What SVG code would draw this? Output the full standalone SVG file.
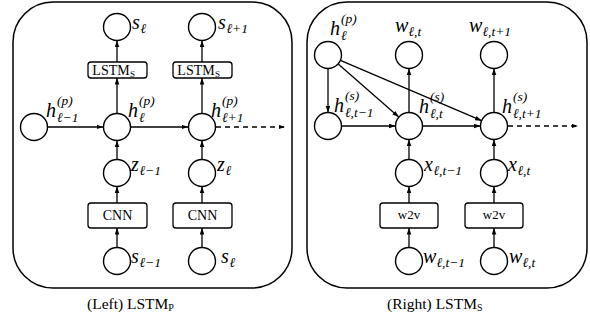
<svg xmlns="http://www.w3.org/2000/svg" width="590" height="327" viewBox="0 0 590 327">
<style>
.panel{fill:none;stroke:#000;stroke-width:1.5}
.n{fill:#fff;stroke:#000;stroke-width:1.4}
.box{fill:#fff;stroke:#000;stroke-width:1.3}
.e{fill:none;stroke:#000;stroke-width:1.3;marker-end:url(#ah)}
.d{stroke-dasharray:5,4}
.m{font-family:"Liberation Serif","DejaVu Serif",serif;font-style:italic;font-size:20px;fill:#000}
.s{font-family:"Liberation Serif","DejaVu Serif",serif;font-style:italic;font-size:13.5px;fill:#000}
.r{font-family:"Liberation Serif","DejaVu Serif",serif;font-size:14px;fill:#000}
.rs{font-family:"Liberation Serif","DejaVu Serif",serif;font-size:9px;fill:#000}
.cap{font-family:"Liberation Serif","DejaVu Serif",serif;font-size:15.5px;fill:#000}
</style>
<defs>
<marker id="ah" markerUnits="userSpaceOnUse" markerWidth="7" markerHeight="5" refX="6.5" refY="2.3" orient="auto">
<path d="M0,0 L6.5,2.3 L0,4.6 z" fill="#000"/>
</marker>
</defs>

<g id="panels">
<rect class="panel" x="13" y="2" width="279" height="286" rx="40" ry="40"/>
<rect class="panel" x="307" y="2" width="280" height="286" rx="40" ry="40"/>
</g>

<g id="connectors">
<line class="e" x1="47.5" y1="127" x2="103" y2="127"/>
<line class="e" x1="130.5" y1="127" x2="188" y2="127"/>
<line class="e d" x1="216" y1="127" x2="285" y2="127"/>
<line class="e" x1="117" y1="113.5" x2="117" y2="78"/>
<line class="e" x1="202" y1="113.5" x2="202" y2="78"/>
<line class="e" x1="117" y1="62" x2="117" y2="40.5"/>
<line class="e" x1="202" y1="62" x2="202" y2="40.5"/>
<line class="e" x1="117" y1="159.5" x2="117" y2="140.5"/>
<line class="e" x1="202" y1="159.5" x2="202" y2="140.5"/>
<line class="e" x1="117" y1="203" x2="117" y2="186.5"/>
<line class="e" x1="202" y1="203" x2="202" y2="186.5"/>
<line class="e" x1="117" y1="247.5" x2="117" y2="228"/>
<line class="e" x1="202" y1="247.5" x2="202" y2="228"/>
<line class="e" x1="328" y1="68.5" x2="328" y2="112.5"/>
<line class="e" x1="338.2" y1="63.9" x2="398.8" y2="117.1"/>
<line class="e" x1="340.4" y1="60.3" x2="481.6" y2="120.7"/>
<line class="e" x1="341.5" y1="126" x2="395.5" y2="126"/>
<line class="e" x1="422.5" y1="126" x2="480.5" y2="126"/>
<line class="e d" x1="508" y1="126" x2="578" y2="126"/>
<line class="e" x1="409" y1="112.5" x2="409" y2="68.5"/>
<line class="e" x1="494" y1="112.5" x2="494" y2="68.5"/>
<line class="e" x1="409" y1="159.5" x2="409" y2="139.5"/>
<line class="e" x1="494" y1="159.5" x2="494" y2="139.5"/>
<line class="e" x1="409" y1="203" x2="409" y2="186.5"/>
<line class="e" x1="494" y1="203" x2="494" y2="186.5"/>
<line class="e" x1="409" y1="247.5" x2="409" y2="228"/>
<line class="e" x1="494" y1="247.5" x2="494" y2="228"/>
</g>

<g id="L_s_out1"><circle class="n" cx="117" cy="27" r="13.5"/>
<text class="m" x="132" y="29">s</text><text class="s" x="140.5" y="33">ℓ</text></g>
<g id="L_s_out2"><circle class="n" cx="202" cy="27" r="13.5"/>
<text class="m" x="218" y="29">s</text><text class="s" x="226.5" y="33">ℓ+1</text></g>
<g id="L_lstm1"><rect class="box" x="88" y="62" width="59" height="16" rx="3"/>
<text class="r" x="111" y="75" text-anchor="middle">LSTM</text><text class="rs" x="130" y="77">S</text></g>
<g id="L_lstm2"><rect class="box" x="173" y="62" width="59" height="16" rx="3"/>
<text class="r" x="196" y="75" text-anchor="middle">LSTM</text><text class="rs" x="215" y="77">S</text></g>
<g id="L_h0"><circle class="n" cx="34" cy="127" r="13.5"/>
<text class="m" x="46" y="117">h</text><text class="s" x="57" y="105">(p)</text><text class="s" x="57" y="122">ℓ−1</text></g>
<g id="L_h1"><circle class="n" cx="117" cy="127" r="13.5"/>
<text class="m" x="128" y="117">h</text><text class="s" x="139" y="105">(p)</text><text class="s" x="139" y="122">ℓ</text></g>
<g id="L_h2"><circle class="n" cx="202" cy="127" r="13.5"/>
<text class="m" x="211" y="117">h</text><text class="s" x="222" y="105">(p)</text><text class="s" x="222" y="122">ℓ+1</text></g>
<g id="L_z1"><circle class="n" cx="117" cy="173" r="13.5"/>
<text class="m" x="131" y="171">z</text><text class="s" x="139.5" y="175">ℓ−1</text></g>
<g id="L_z2"><circle class="n" cx="202" cy="173" r="13.5"/>
<text class="m" x="217" y="171">z</text><text class="s" x="225.5" y="175">ℓ</text></g>
<g id="L_cnn1"><rect class="box" x="88" y="203" width="59" height="25" rx="3"/>
<text class="r" x="117.5" y="220" text-anchor="middle">CNN</text></g>
<g id="L_cnn2"><rect class="box" x="173" y="203" width="59" height="25" rx="3"/>
<text class="r" x="202.5" y="220" text-anchor="middle">CNN</text></g>
<g id="L_s_in1"><circle class="n" cx="117" cy="261" r="13.5"/>
<text class="m" x="131" y="263">s</text><text class="s" x="139.5" y="267">ℓ−1</text></g>
<g id="L_s_in2"><circle class="n" cx="202" cy="261" r="13.5"/>
<text class="m" x="221" y="263">s</text><text class="s" x="229.5" y="267">ℓ</text></g>

<g id="R_hp"><circle class="n" cx="328" cy="55" r="13.5"/>
<text class="m" x="330" y="35">h</text><text class="s" x="341" y="23">(p)</text><text class="s" x="341" y="40">ℓ</text></g>
<g id="R_w_out1"><circle class="n" cx="409" cy="55" r="13.5"/>
<text class="m" x="395" y="32">w</text><text class="s" x="408.5" y="36">ℓ,t</text></g>
<g id="R_w_out2"><circle class="n" cx="494" cy="55" r="13.5"/>
<text class="m" x="469" y="32">w</text><text class="s" x="482.5" y="36">ℓ,t+1</text></g>
<g id="R_h0"><circle class="n" cx="328" cy="126" r="13.5"/>
<text class="m" x="334" y="112">h</text><text class="s" x="345" y="100">(s)</text><text class="s" x="345" y="117">ℓ,t−1</text></g>
<g id="R_h1"><circle class="n" cx="409" cy="126" r="13.5"/>
<text class="m" x="419" y="113">h</text><text class="s" x="430" y="101">(s)</text><text class="s" x="430" y="118">ℓ,t</text></g>
<g id="R_h2"><circle class="n" cx="494" cy="126" r="13.5"/>
<text class="m" x="502" y="113">h</text><text class="s" x="513" y="101">(s)</text><text class="s" x="513" y="118">ℓ,t+1</text></g>
<g id="R_x1"><circle class="n" cx="409" cy="173" r="13.5"/>
<text class="m" x="424" y="171">x</text><text class="s" x="433.5" y="175">ℓ,t−1</text></g>
<g id="R_x2"><circle class="n" cx="494" cy="173" r="13.5"/>
<text class="m" x="508" y="171">x</text><text class="s" x="517.5" y="175">ℓ,t</text></g>
<g id="R_w2v1"><rect class="box" x="380" y="203" width="58" height="25" rx="3"/>
<text class="r" x="409" y="219" text-anchor="middle" style="font-size:13px">w2v</text></g>
<g id="R_w2v2"><rect class="box" x="465" y="203" width="58" height="25" rx="3"/>
<text class="r" x="494" y="219" text-anchor="middle" style="font-size:13px">w2v</text></g>
<g id="R_w_in1"><circle class="n" cx="409" cy="261" r="13.5"/>
<text class="m" x="423" y="263">w</text><text class="s" x="436.5" y="267">ℓ,t−1</text></g>
<g id="R_w_in2"><circle class="n" cx="494" cy="261" r="13.5"/>
<text class="m" x="509" y="263">w</text><text class="s" x="522.5" y="267">ℓ,t</text></g>

<g id="captions">
<text class="cap" x="87" y="309">(Left) LSTM<tspan font-size="10" dy="2">P</tspan></text>
<text class="cap" x="387" y="309">(Right) LSTM<tspan font-size="10" dy="2">S</tspan></text>
</g>
</svg>
